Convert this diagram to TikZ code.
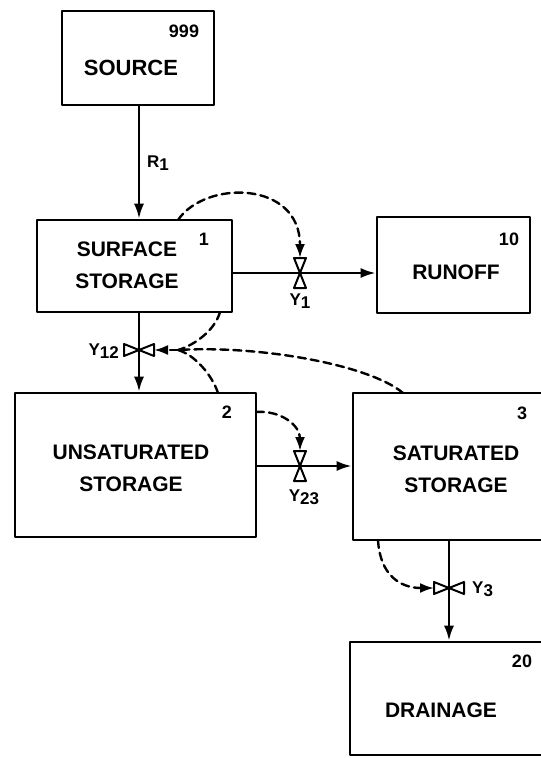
\documentclass[tikz,border=0pt]{standalone}
\usepackage{fontspec}
\setsansfont{Liberation Sans}
\usetikzlibrary{arrows.meta}
\newcommand{\low}[1]{\raisebox{-0.35ex}{#1}}
\tikzset{
  valve/.pic={\draw[line width=2pt,fill=white] (-15,-6) -- (0,0) -- (-15,6) -- cycle (15,-6) -- (0,0) -- (15,6) -- cycle;},
}

\begin{document}
\begin{tikzpicture}[x=1pt,y=-1pt,line cap=round,line join=round,
  box/.style={draw,line width=2.6pt,inner sep=0pt},
  boxtext/.style={font=\sffamily\bfseries\fontsize{21}{32}\selectfont,align=center,inner sep=0pt},
  num/.style={font=\sffamily\bfseries\fontsize{18}{18}\selectfont,inner sep=0pt},
  lab/.style={font=\sffamily\bfseries\fontsize{17}{17}\selectfont,inner sep=0pt},
  flow/.style={line width=2.4pt,-{Latex[length=15pt,width=10pt]}},
  ctl/.style={line width=2.4pt,dash pattern=on 8pt off 5pt,-{Latex[length=14pt,width=10pt]}},
  ctlx/.style={line width=2.4pt,dash pattern=on 8pt off 5pt}]
\path[use as bounding box] (0,0) rectangle (541,758);
% storages
\node[box,minimum width=152pt,minimum height=94pt] (src) at (138,58) {};
\node[box,minimum width=195pt,minimum height=92pt] (surf) at (134.5,266) {};
\node[box,minimum width=153pt,minimum height=96pt] (run) at (453.5,265) {};
\node[box,minimum width=241pt,minimum height=144pt] (unsat) at (135.5,465) {};
\node[box,minimum width=207pt,minimum height=147pt] (sat) at (456.5,466.5) {};
\node[box,minimum width=210pt,minimum height=113pt] (drain) at (455,698.5) {};
\node[boxtext,font=\sffamily\bfseries\fontsize{22}{32}\selectfont] (srct) at (131,68) {SOURCE};
\node[boxtext] (surft) at (127,265) {SURFACE\\STORAGE};
\node[boxtext] (runt) at (456,272) {RUNOFF};
\node[boxtext] (unsatt) at (131,468.5) {UNSATURATED\\STORAGE};
\node[boxtext] (satt) at (456,469.5) {SATURATED\\STORAGE};
\node[boxtext] (draint) at (441,710) {DRAINAGE};
\node[num] (srcn) at (184,31) {999};
\node[num] (surfn) at (204,239) {1};
\node[num] (runn) at (509,239) {10};
\node[num] (unsatn) at (227,412) {2};
\node[num] (satn) at (522,413) {3};
\node[num] (drainn) at (522,661) {20};
% valves and control points
\coordinate (v1) at (300,273);
\coordinate (v12) at (139,350);
\coordinate (v23) at (300,466);
\coordinate (v3) at (449,588);
\coordinate (j12) at (178,350);
\coordinate (c1) at (178,220);
\coordinate (c12a) at (220,312);
\coordinate (c12b) at (218,393);
\coordinate (c12c) at (403,393);
\coordinate (c23) at (256,412);
\coordinate (c3) at (378,540);
% flows
\draw[flow] (src.south -| v12) -- (surf.north -| v12);
\draw[flow] (surf.east |- v1) -- (run.west |- v1);
\draw[flow] (surf.south -| v12) -- (unsat.north -| v12);
\draw[flow] (unsat.east |- v23) -- (sat.west |- v23);
\draw[flow] (sat.south -| v3) -- (drain.north -| v3);
% controls
\draw[ctl] (c1) .. controls (205,180) and (300,180) .. ([yshift=15pt]v1);
\draw[ctlx] (c12a) .. controls (215,330) and (195,345) .. (j12);
\draw[ctlx] (c12b) .. controls (212,375) and (195,355) .. (j12);
\draw[ctlx] (c12c) .. controls (370,365) and (260,345) .. (j12);
\draw[ctl] (j12) -- ([xshift=15pt]v12);
\draw[ctl] (c23) .. controls (280,410) and (300,425) .. ([yshift=15pt]v23);
\draw[ctl] (c3) .. controls (380,575) and (400,588) .. ([xshift=-15pt]v3);
\pic[rotate=90] at (v1) {valve};
\pic at (v12) {valve};
\pic[rotate=90] at (v23) {valve};
\pic at (v3) {valve};
% labels
\node[lab,anchor=west] (r1) at (147,163) {R\low{1}};
\node[lab] (y1) at (300,301) {Y\low{1}};
\node[lab,anchor=east] (y12) at (119,351) {Y\low{12}};
\node[lab] (y23) at (304,497) {Y\low{23}};
\node[lab,anchor=west] (y3) at (472,589) {Y\low{3}};
\end{tikzpicture}
\end{document}
